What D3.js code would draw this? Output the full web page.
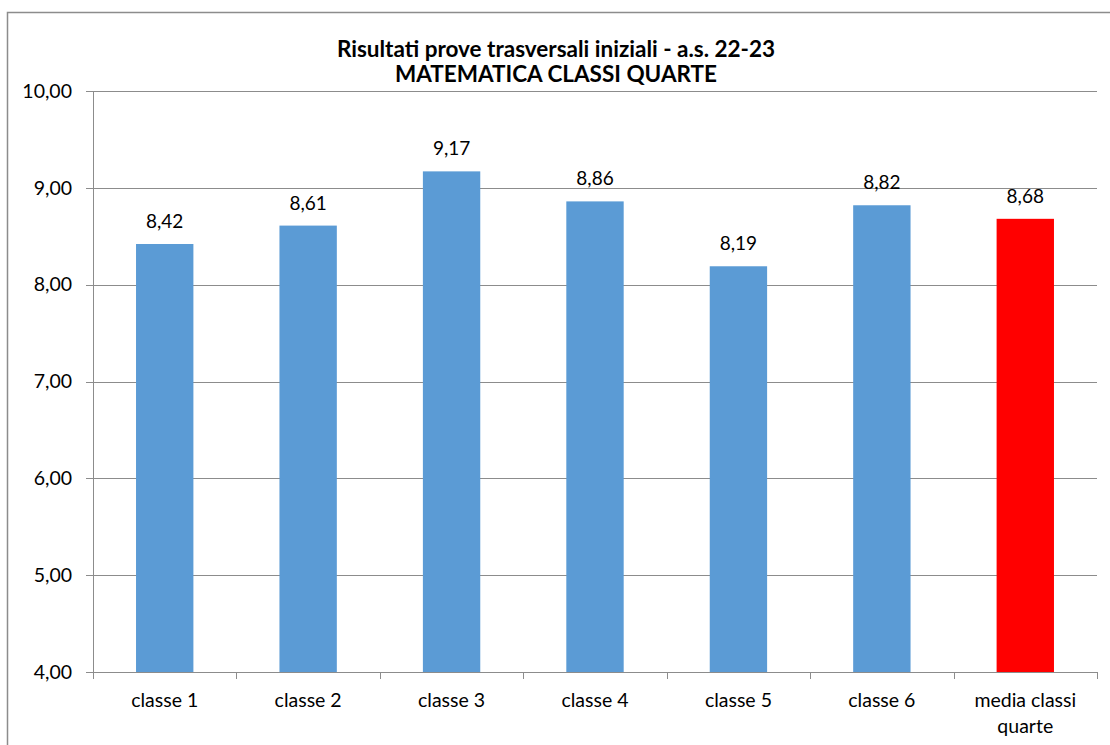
<!DOCTYPE html>
<html lang="it">
	<head>
		<meta charset="UTF-8">
		<title>Risultati prove trasversali</title>
		<script src="https://d3js.org/d3.v7.min.js"></script>
		<style>
			body {
				margin: 0;
				background: white;
			}

			text {
				font-family: Lato, "Open Sans", sans-serif;
				fill: #000;
			}

			.title {
				font-weight: bold;
				font-size: 22.5px;
				text-anchor: middle;
			}

			.axis text {
				font-size: 19.5px;
			}

			.label {
				font-size: 19px;
				text-anchor: middle;
			}
		</style>
	</head>
	<body>
		<div id="chart"></div>
		<script>
			const categories = ["classe 1", "classe 2", "classe 3", "classe 4", "classe 5", "classe 6", "media classi quarte"]
			const values = [8.42, 8.61, 9.17, 8.86, 8.19, 8.82, 8.68]
			const barColors = ["#5B9BD5", "#5B9BD5", "#5B9BD5", "#5B9BD5", "#5B9BD5", "#5B9BD5", "#FF0000"]
			const yTicks = [4, 5, 6, 7, 8, 9, 10]
			const titleLines = ["Risultati prove trasversali iniziali - a.s. 22-23", "MATEMATICA CLASSI QUARTE"]

			const width = 1110
			const height = 745
			const margin = { top: 91, right: 13, bottom: 73, left: 93 }
			const fmt = v => d3.format(".2f")(v).replace(".", ",")

			const svg = d3.select("#chart").append("svg")
				.attr("width", width)
				.attr("height", height)

			// chart border
			svg.append("rect")
				.attr("x", 7.5).attr("y", 12.5)
				.attr("width", width - 6).attr("height", height)
				.attr("fill", "none")
				.attr("stroke", "#8c8c8c")
				.attr("stroke-width", 1.5)

			const x = d3.scaleBand()
				.domain(categories)
				.range([margin.left, width - margin.right])
				.paddingInner(0.6)
				.paddingOuter(0.3)

			const y = d3.scaleLinear()
				.domain([4, 10])
				.range([height - margin.bottom, margin.top])

			// gridlines
			svg.append("g")
				.selectAll("line")
				.data(yTicks)
				.join("line")
				.attr("x1", margin.left - 7)
				.attr("x2", width - margin.right)
				.attr("y1", d => Math.round(y(d)) + 0.5)
				.attr("y2", d => Math.round(y(d)) + 0.5)
				.attr("stroke", "#8c8c8c")
				.attr("stroke-width", 1)

			// y axis line
			svg.append("line")
				.attr("x1", margin.left + 0.5).attr("x2", margin.left + 0.5)
				.attr("y1", y(10)).attr("y2", y(4) + 6)
				.attr("stroke", "#8c8c8c")

			const yAxis = svg.append("g").classed("axis", true)
			yAxis.selectAll("text")
				.data(yTicks)
				.join("text")
				.attr("x", margin.left - 21)
				.attr("y", d => y(d))
				.attr("dy", "0.35em")
				.attr("text-anchor", "end")
				.text(d => fmt(d))

			// x ticks at category boundaries
			const plotW = width - margin.right - margin.left
			svg.append("g")
				.selectAll("line")
				.data(d3.range(categories.length + 1))
				.join("line")
				.attr("x1", i => Math.round(margin.left + i * plotW / categories.length) + 0.5)
				.attr("x2", i => Math.round(margin.left + i * plotW / categories.length) + 0.5)
				.attr("y1", y(4))
				.attr("y2", y(4) + 7)
				.attr("stroke", "#8c8c8c")

			// bars
			svg.append("g")
				.selectAll("rect")
				.data(values)
				.join("rect")
				.attr("x", (d, i) => x(categories[i]))
				.attr("y", d => y(d))
				.attr("width", x.bandwidth())
				.attr("height", d => y(4) - y(d))
				.attr("fill", (d, i) => barColors[i])

			// value labels
			svg.append("g")
				.selectAll("text")
				.data(values)
				.join("text")
				.classed("label", true)
				.attr("x", (d, i) => x(categories[i]) + x.bandwidth() / 2)
				.attr("y", d => y(d) - 16)
				.text(d => fmt(d))

			// category labels
			const xAxis = svg.append("g").classed("axis", true)
			xAxis.selectAll("text")
				.data(categories)
				.join("text")
				.attr("text-anchor", "middle")
				.attr("x", d => x(d) + x.bandwidth() / 2)
				.attr("y", y(4) + 35)
				.each(function (d) {
					const words = d === "media classi quarte" ? ["media classi", "quarte"] : [d]
					d3.select(this).selectAll("tspan")
						.data(words)
						.join("tspan")
						.attr("x", x(d) + x.bandwidth() / 2)
						.attr("dy", (w, i) => i ? 26 : 0)
						.text(w => w)
				})

			// title
			svg.append("g")
				.selectAll("text")
				.data(titleLines)
				.join("text")
				.classed("title", true)
				.attr("x", 556)
				.attr("y", (d, i) => 57 + i * 25)
				.text(d => d)
		</script>
	</body>
</html>
